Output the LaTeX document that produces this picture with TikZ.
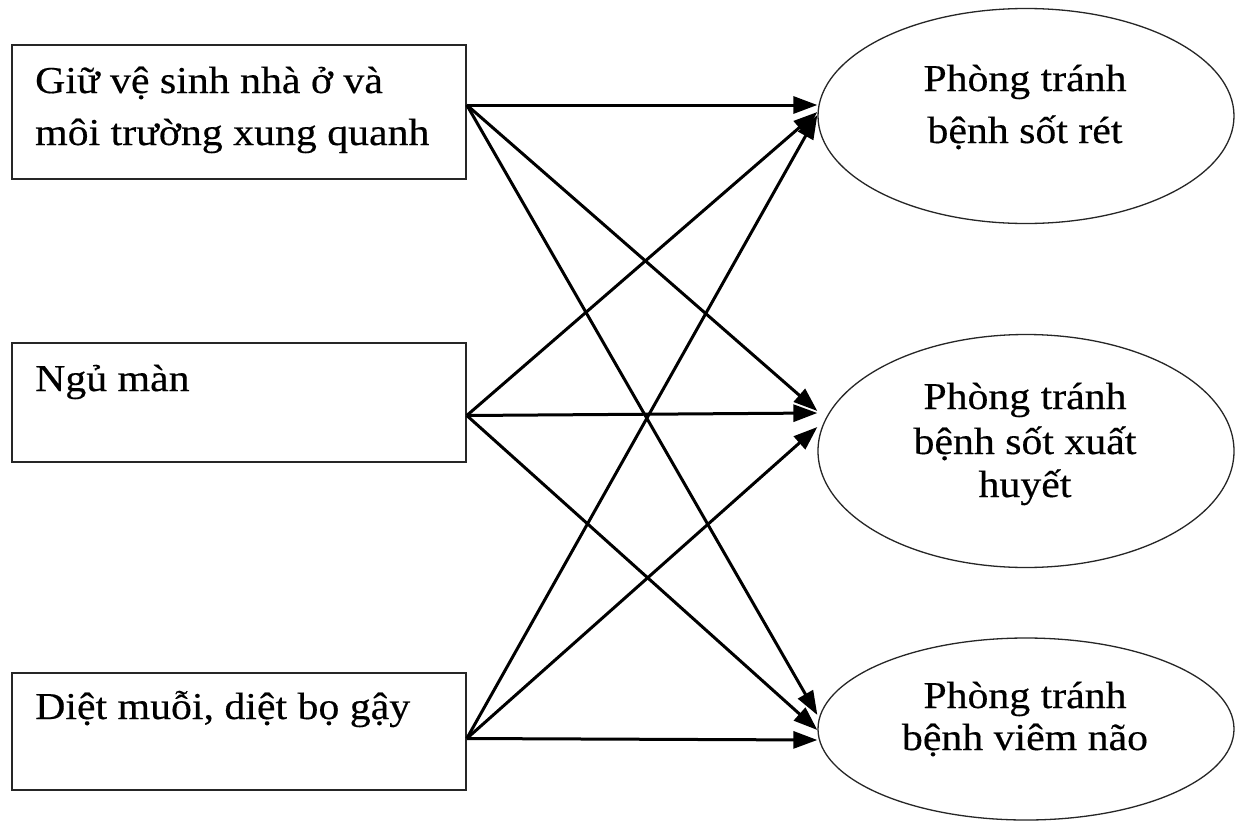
\documentclass[tikz,border=0pt]{standalone}
\usepackage{fontspec}
\setmainfont{Liberation Serif}[FakeStretch=1.1,FakeBold=0.4]
\usetikzlibrary{arrows.meta,calc,shapes.geometric}
\begin{document}
\begin{tikzpicture}[x=1pt,y=-1pt,
  boxnode/.style={draw=black!85,line width=1.6pt,rectangle,minimum width=454pt,inner sep=0pt},
  ovalnode/.style={draw=black!85,line width=1.3pt,ellipse,inner sep=0pt,minimum width=416pt},
  lbl/.style={font=\fontsize{38}{48}\selectfont,inner sep=0pt,anchor=base west},
  clbl/.style={font=\fontsize{38}{48}\selectfont,inner sep=0pt,anchor=base},
  link/.style={line width=3pt,-{Triangle[length=24pt,width=17pt]}}]
\useasboundingbox[fill=white] (0,0) rectangle (1236,822);

% left boxes
\node[boxnode,minimum height=134pt] (b1) at (239,112) {};
\node[boxnode,minimum height=119pt] (b2) at (239,402.5) {};
\node[boxnode,minimum height=117pt] (b3) at (239,731.5) {};

\node[lbl] (t1a) at (35,93) {Giữ vệ sinh nhà ở và};
\node[lbl] (t1b) at (35,145) {môi trường xung quanh};
\node[lbl] (t2) at (35,391) {Ngủ màn};
\node[lbl] (t3) at (35,719) {Diệt muỗi, diệt bọ gậy};

% right ellipses
\node[ovalnode,minimum height=215pt] (e1) at (1026,116) {};
\node[ovalnode,minimum height=233pt] (e2) at (1026,451) {};
\node[ovalnode,minimum height=182pt] (e3) at (1026,729) {};

\node[clbl] (u1a) at (1025,91) {Phòng tránh};
\node[clbl] (u1b) at (1025,143) {bệnh sốt rét};
\node[clbl] (u2a) at (1025,409) {Phòng tránh};
\node[clbl] (u2b) at (1025,454) {bệnh sốt xuất};
\node[clbl] (u2c) at (1025,497) {huyết};
\node[clbl] (u3a) at (1025,708) {Phòng tránh};
\node[clbl] (u3b) at (1025,750) {bệnh viêm não};

% connectors
\draw[link] ($(b1.east)+(0,-7)$) -- ($(e1.west)+(0,-11)$);
\draw[link] ($(b1.east)+(0,-7)$) -- ($(e2.west)+(0,-40)$);
\draw[link] ($(b1.east)+(0,-7)$) -- ($(e3.west)+(0,-14)$);

\draw[link] ($(b2.east)+(0,13)$) -- ($(e1.west)+(0,-4)$);
\draw[link] ($(b2.east)+(0,13)$) -- ($(e2.west)+(0,-38)$);
\draw[link] ($(b2.east)+(0,13)$) -- ($(e3.west)+(0,1)$);

\draw[link] ($(b3.east)+(0,7)$) -- ($(e1.west)+(0,-1)$);
\draw[link] ($(b3.east)+(0,7)$) -- ($(e2.west)+(0,-24)$);
\draw[link] ($(b3.east)+(0,7)$) -- ($(e3.west)+(0,11)$);
\end{tikzpicture}
\end{document}
